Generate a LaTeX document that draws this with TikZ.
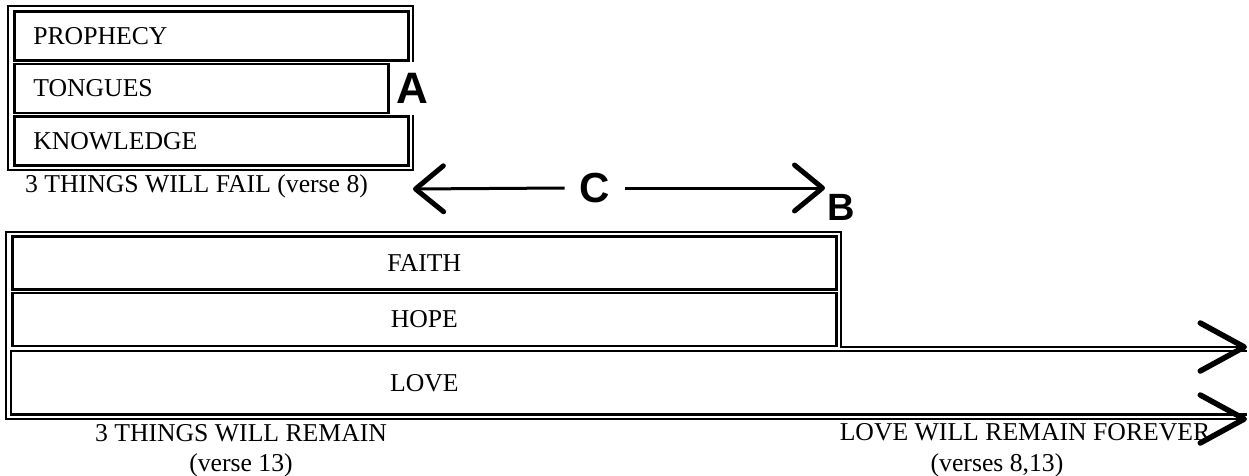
\documentclass[tikz,border=0pt]{standalone}
\usepackage{fontspec}
\setmainfont{Liberation Serif}
\newfontfamily\handfont{Liberation Sans}
\usetikzlibrary{positioning,arrows.meta}

\tikzset{
  every node/.style={font=\fontsize{25.7}{30}\selectfont},
  bar/.style={draw, line width=2.6pt, minimum height=49pt, inner xsep=19pt, inner ysep=0pt},
  leftbar/.style={bar, align=left},
  rim/.style={line width=1.8pt},
  note/.style={inner sep=0pt, anchor=base},
  hand/.style={font=\handfont\bfseries\fontsize{#1}{#1}\selectfont, inner sep=0pt},
  Chev/.tip={Straight Barb[length=28pt, width=46pt, line width=5pt, round]},
  BigChev/.tip={Straight Barb[length=44pt, width=48pt, line width=5.5pt, round]},
  barb/.style={line width=3pt, -Chev},
}

\begin{document}
\begin{tikzpicture}[x=1pt, y=-1pt]
    \useasboundingbox (0,0) rectangle (1249,476);

    % things that fail
    \node [leftbar, text width=356pt, anchor=north west] (Prophecy) at (13,10) {PROPHECY};
    \node [leftbar, text width=336pt, below=1pt of Prophecy.south west, anchor=north west] (Tongues) {TONGUES};
    \node [leftbar, text width=356pt, below=1pt of Tongues.south west, anchor=north west] (Knowledge) {KNOWLEDGE};
    \draw [rim] ([xshift=3pt]Prophecy.south east) |- ([shift={(-5pt,4pt)}]Prophecy.north west)
        |- ([shift={(3pt,-3pt)}]Knowledge.south east) -- ([xshift=3pt]Knowledge.north east);
    \node [hand=44, right=7pt of Tongues] (A) {A};
    \node [note, anchor=base west] (FailNote) at (25,192) {3 THINGS WILL FAIL (verse 8)};

    % span C
    \node [hand=42, inner xsep=15pt] (C) at (595,188) {C};
    \coordinate (FailEnd) at (413,189);
    \coordinate (BEnd) at (825,188);
    \draw [barb] (C.west) -- (FailEnd);
    \draw [barb] (C.east) -- (BEnd);
    \node [hand=38, below right=6pt and 2pt of BEnd, anchor=north west] (B) {B};

    % things that remain
    \node [bar, minimum width=824pt, minimum height=53pt, anchor=north west] (Faith) at (11,235) {FAITH};
    \node [bar, minimum width=824pt, minimum height=53pt, below=1pt of Faith] (Hope) {HOPE};
    \node [bar, draw=none, minimum width=824pt, minimum height=61pt, below=3.8pt of Hope] (Love) {LOVE};
    \coordinate (RimTop) at (1247,347);
    \coordinate (RimLow) at (1247,419);
    \draw [line width=2.6pt] (Love.north west -| RimTop) -- (Love.north west) -- (Love.south west) -- (Love.south west -| RimTop);
    \draw [rim, BigChev-BigChev] (RimTop) -| ([shift={(3pt,3pt)}]Faith.north east)
        -- ([shift={(-5pt,3pt)}]Faith.north west) |- (RimLow);

    \node [note] (Remain) at (241,441) {3 THINGS WILL REMAIN};
    \node [note] (RemainVerse) at ([yshift=-30pt]Remain.base) {(verse 13)};
    \node [note] (Forever) at (1025,440) {LOVE WILL REMAIN FOREVER};
    \node [note] (ForeverVerse) at (997,471) {(verses 8,13)};
\end{tikzpicture}
\end{document}
